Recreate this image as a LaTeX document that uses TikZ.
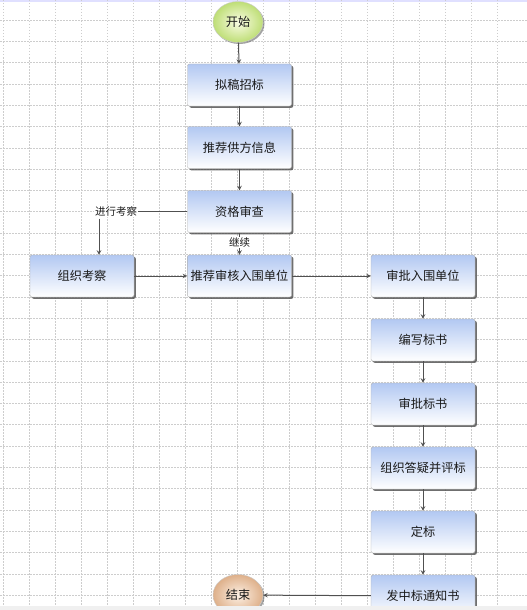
\documentclass[tikz,border=0pt]{standalone}
\usepackage{fontspec}
\setmainfont{Noto Sans CJK SC}
\usepackage{xcolor}
\usetikzlibrary{shapes, arrows, positioning, calc, shadows}

\definecolor{boxtop}{RGB}{178,200,242}
\definecolor{linec}{RGB}{80,80,80}
\definecolor{gridc}{RGB}{205,205,205}

\begin{document}
\begin{tikzpicture}[x=1pt, y=-1pt,
  gridline/.style={gridc, line width=0.5pt, dash pattern=on 1.5pt off 1.5pt},
  box/.style={rectangle, rounded corners=2pt, draw=gray!60, minimum width=104pt, minimum height=42pt,
    top color=boxtop, bottom color=white, font=\fontsize{12.2}{14}\selectfont, text=black!90,
    drop shadow={shadow xshift=1.8pt, shadow yshift=-1.8pt, fill=black!70, opacity=0.8}},
  term/.style={ellipse, draw=gray!40, minimum width=50pt, minimum height=41pt, inner sep=0pt,
    font=\fontsize{12.2}{14}\selectfont, text=black!90,
    drop shadow={shadow xshift=1.5pt, shadow yshift=-1.5pt, fill=black!60, opacity=0.6}},
  arr/.style={->, >=stealth, linec, line width=1pt},
  tag/.style={font=\fontsize{10.5}{12}\selectfont, text=black!90, fill=white, inner sep=1pt}]
\useasboundingbox (0,0) rectangle (527,610);
\clip (0,0) rectangle (527,610);

% background grid
\fill[white] (0,0) rectangle (527,610);
\fill[blue!12] (0,0) rectangle (527,2);
\foreach \gx in {0,...,19}
  \draw[gridline] ({3.3+26*\gx},0) -- ({3.3+26*\gx},610);
\foreach \gy in {0,...,27}
  \draw[gridline] (0,{20+21.3*\gy}) -- (527,{20+21.3*\gy});

% left column
\node[term, inner color={rgb,255:red,250;green,252;blue,228}, outer color={rgb,255:red,190;green,222;blue,118}] (start) at (238,22) {开始};
\node[box] (draft) at (239.5,85) {拟稿招标};
\node[box] (supply) at (239.5,147.5) {推荐供方信息};
\node[box] (qualify) at (239.5,211.5) {资格审查};
\node[box] (recommend) at (239.5,276) {推荐审核入围单位};
\node[box] (inspect) at (82,276) {组织考察};

% right column
\node[box] (approve) at (423,276) {审批入围单位};
\node[box] (compile) at (423,340) {编写标书};
\node[box] (approvedoc) at (423,404) {审批标书};
\node[box] (evaluate) at (423,468) {组织答疑并评标};
\node[box] (award) at (423,532) {定标};
\node[box] (notice) at (423,596) {发中标通知书};
\node[term, inner color={rgb,255:red,253;green,240;blue,228}, outer color={rgb,255:red,222;green,176;blue,138}] (finish) at (238,595) {结束};

% connectors
\draw[arr] (start) -- (draft);
\draw[arr] (draft) -- (supply);
\draw[arr] (supply) -- (qualify);
\draw[arr] (qualify) -- (recommend) node[tag, pos=0.45] {继续};
\node[tag] (checktag) at (116,211.5) {进行考察};
\draw[linec, line width=1pt] (qualify.west) -- (checktag.east);
\coordinate (drop) at (99,218.5);
\draw[arr] (drop) -- (drop |- inspect.north);
\draw[arr] (inspect) -- (recommend);
\draw[arr] (recommend) -- (approve);
\draw[arr] (approve) -- (compile);
\draw[arr] (compile) -- (approvedoc);
\draw[arr] (approvedoc) -- (evaluate);
\draw[arr] (evaluate) -- (award);
\draw[arr] (award) -- (notice);
\draw[arr] (notice) -- (finish);

\fill[gray!12] (0,606) rectangle (527,610);
\end{tikzpicture}
\end{document}
